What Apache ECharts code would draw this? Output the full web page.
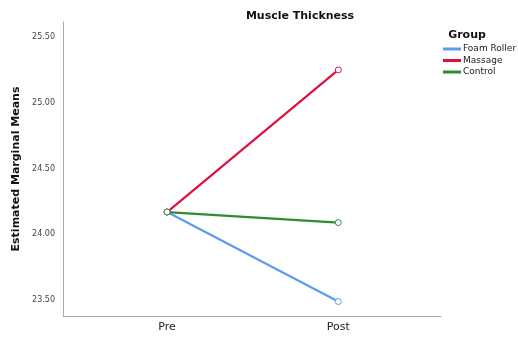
<!DOCTYPE html>
<html><head><meta charset="utf-8">
<script src="https://cdn.jsdelivr.net/npm/echarts@6/dist/echarts.min.js"></script>
<style>html,body{margin:0;padding:0;background:#fff}#c{width:518px;height:337px}</style>
</head><body><div id="c"></div>
<script>
const categories = ['Pre', 'Post'];
const groups = ['Foam Roller', 'Massage', 'Control'];
const foamRoller = [24.17, 23.49];
const massage = [24.17, 25.25];
const control = [24.17, 24.09];
const yTicks = [23.5, 24.0, 24.5, 25.0, 25.5];
const colors = ['#5b9cf0', '#e0103e', '#2e8b2e'];
const seriesValues = [foamRoller, massage, control];

const font = 'DejaVu Sans';
const chart = echarts.init(document.getElementById('c'));
chart.setOption({
  animation: false,
  textStyle: { fontFamily: font },
  title: [
    { text: 'Muscle Thickness', left: 295, top: 6, textAlign: 'center',
      textStyle: { fontFamily: font, fontSize: 11, fontWeight: 'bold', color: '#111' } },
    { text: 'Group', left: 462, top: 25, textAlign: 'center',
      textStyle: { fontFamily: font, fontSize: 11, fontWeight: 'bold', color: '#111' } }
  ],
  legend: {
    orient: 'vertical', left: 443, top: 44.5, itemWidth: 18, itemHeight: 3, itemGap: 2.5,
    padding: 0, width: 75,
    icon: 'rect',
    data: groups.map((g, i) => ({ name: g, itemStyle: { color: colors[i], borderWidth: 0 } })),
    textStyle: { fontFamily: font, fontSize: 9, color: '#222', padding: [0, 0, 0, -3], overflow: 'none' }
  },
  grid: { left: 63, right: 77, top: 22, bottom: 21 },
  xAxis: {
    type: 'value', min: 0.392, max: 2.6,
    axisLine: { show: true, lineStyle: { color: '#aaa', width: 1 } },
    axisTick: { show: false }, splitLine: { show: false },
    axisLabel: { customValues: [1, 2], formatter: v => categories[Math.round(v) - 1] || '',
      fontSize: 11, color: '#222', margin: 6, fontFamily: font }
  },
  yAxis: {
    type: 'value', min: 23.38, max: 25.614,
    name: 'Estimated Marginal Means', nameLocation: 'middle', nameGap: 37, nameRotate: 90,
    nameTextStyle: { fontFamily: font, fontSize: 11, fontWeight: 'bold', color: '#111' },
    axisLine: { show: true, lineStyle: { color: '#aaa', width: 1 } },
    axisTick: { show: false }, splitLine: { show: false },
    axisLabel: { customValues: yTicks, formatter: v => v.toFixed(2), fontSize: 8, color: '#444', margin: 8, fontFamily: font }
  },
  series: groups.map((g, i) => ({
    name: g, type: 'line', color: colors[i],
    data: seriesValues[i].map((v, j) => [j + 1, v]),
    symbol: 'circle', symbolSize: 6, showSymbol: true,
    itemStyle: { color: '#fff', borderColor: colors[i], borderWidth: 1 },
    lineStyle: { color: colors[i], width: 2.2 }
  }))
});
</script></body></html>
